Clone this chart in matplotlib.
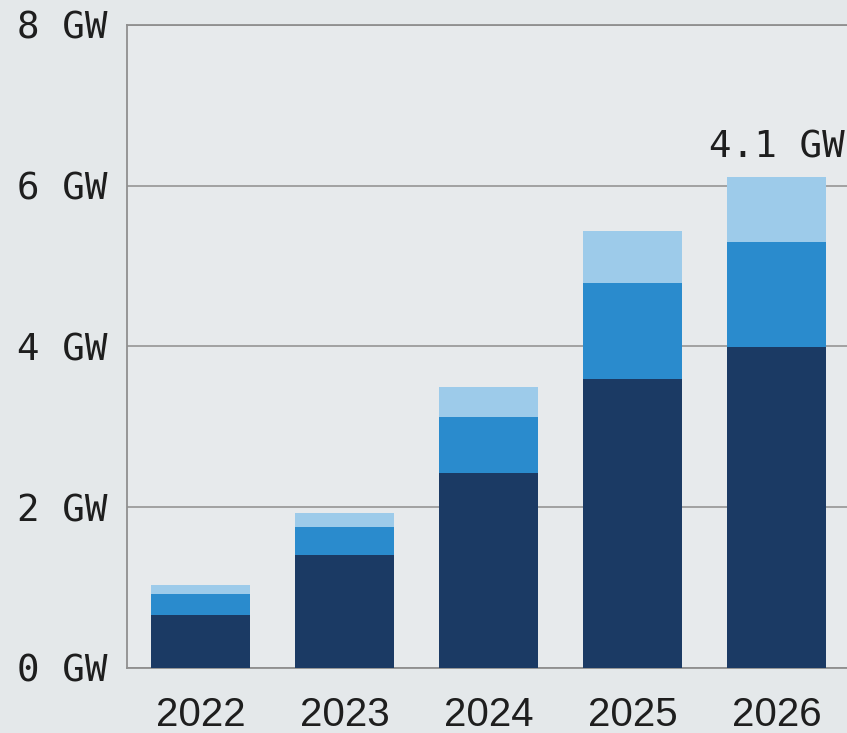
import numpy as np
import matplotlib
matplotlib.use("Agg")
import matplotlib.pyplot as plt

# data (GW)
years = ["2022", "2023", "2024", "2025", "2026"]
base = [0.66, 1.41, 2.43, 3.59, 3.99]   # dark segment
mid = [0.26, 0.34, 0.69, 1.20, 1.31]    # medium segment
top = [0.11, 0.18, 0.38, 0.65, 0.81]    # light segment
yticks = [0, 2, 4, 6, 8]
ytick_labels = ["0 GW", "2 GW", "4 GW", "6 GW", "8 GW"]
note_label = "4.1 GW"
note_idx = 4

c_dark = "#1b3a64"
c_mid = "#2a8bcd"
c_light = "#9dcbea"
bg = "#e4e8ea"

fig = plt.figure(figsize=(8.47, 7.33), dpi=100)
fig.patch.set_facecolor(bg)
ax = fig.add_axes([0.150, 0.0887, 0.85, 0.8772])
ax.set_facecolor("#e7eaec")

x = np.arange(len(years))
b = np.array(base)
m = np.array(mid)
t = np.array(top)
w = 0.69
ax.bar(x, b, w, color=c_dark, zorder=3)
ax.bar(x, m, w, bottom=b, color=c_mid, zorder=3)
ax.bar(x, t, w, bottom=b + m, color=c_light, zorder=3)

# label above the last bar
ax.annotate(note_label, (x[note_idx], (b + m + t)[note_idx]),
            xytext=(0, 14), textcoords="offset points",
            ha="center", va="baseline", fontsize=27,
            family="DejaVu Sans Mono", color="#1e1e1e")

ax.set_xlim(-0.51, 4.49)
ax.set_ylim(0, 8)
ax.set_yticks(yticks)
ax.set_yticklabels(ytick_labels, family="DejaVu Sans Mono", fontsize=27, color="#1e1e1e")
ax.set_xticks(x)
ax.set_xticklabels(years, family="Liberation Sans", fontsize=29, color="#1e1e1e")
ax.tick_params(axis="y", length=0, pad=14)
ax.tick_params(axis="x", length=0, pad=20)

ax.grid(axis="y", color="#9c9c9c", linewidth=1.3, zorder=1)
for s in ["left", "bottom", "top"]:
    ax.spines[s].set_color("#8f8f8f")
    ax.spines[s].set_linewidth(1.3)
ax.spines["right"].set_visible(False)

plt.savefig("out.png", dpi=100, facecolor=bg)
